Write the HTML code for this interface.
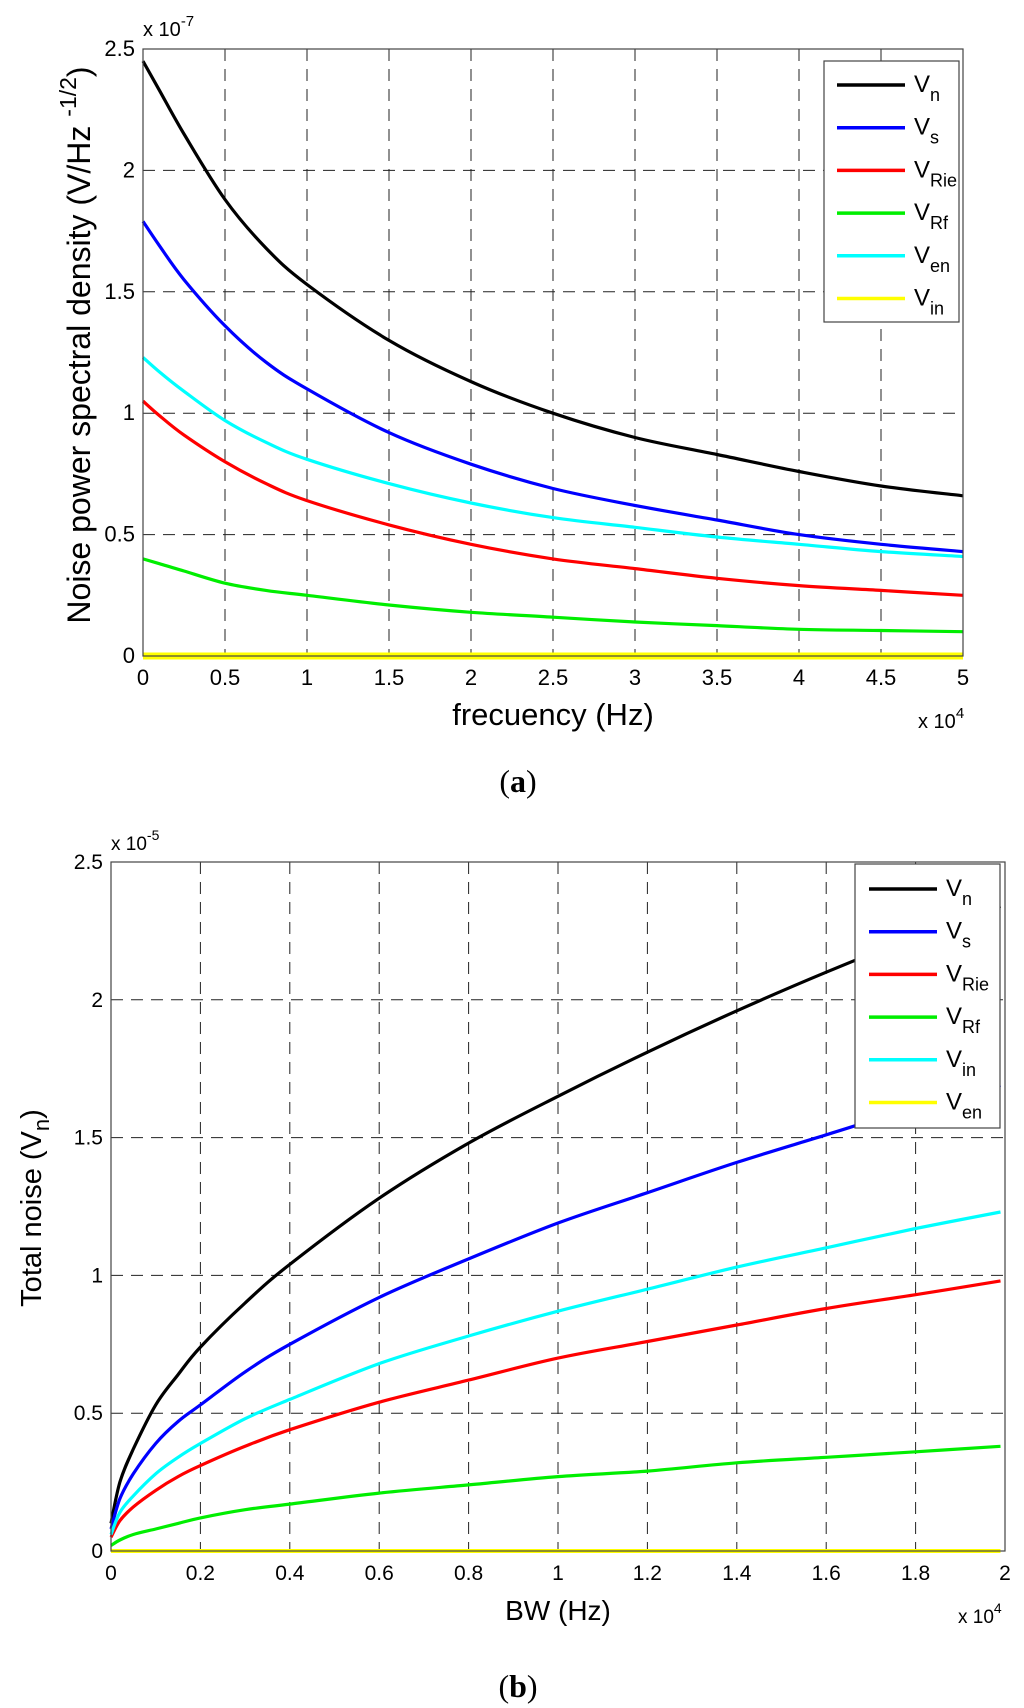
<!DOCTYPE html>
<html><head><meta charset="utf-8"><style>
html,body{margin:0;padding:0;background:#fff;}
svg{display:block;font-family:"Liberation Sans",Arial,sans-serif;}
</style></head><body>
<svg id="fig" width="1024" height="1708" viewBox="0 0 1024 1708" xmlns="http://www.w3.org/2000/svg">
<rect width="1024" height="1708" fill="#fff"/>
<g id="pa"></g>
<g id="pb"></g>
<text x="518" y="792" text-anchor="middle" font-family="Liberation Serif,serif" font-size="32">(<tspan font-weight="bold">a</tspan>)</text>
<text x="518" y="1697" text-anchor="middle" font-family="Liberation Serif,serif" font-size="32">(<tspan font-weight="bold">b</tspan>)</text>
</svg>
<script>
// Chart A data (x in 1e4 Hz, y in 1e-7)
const aX = [0,0.1,0.25,0.5,0.75,1,1.5,2,2.5,3,3.5,4,4.5,5];
const aVn  = [2.45,2.33,2.15,1.88,1.68,1.53,1.30,1.13,1.00,0.90,0.83,0.76,0.70,0.66];
const aVs  = [1.79,1.69,1.55,1.36,1.21,1.10,0.92,0.79,0.69,0.62,0.56,0.50,0.46,0.43];
const aVrie= [1.05,0.99,0.91,0.80,0.71,0.64,0.54,0.46,0.40,0.36,0.32,0.29,0.27,0.25];
const aVrf = [0.40,0.38,0.35,0.30,0.27,0.25,0.21,0.18,0.16,0.14,0.125,0.11,0.105,0.10];
const aVen = [1.23,1.17,1.09,0.97,0.88,0.81,0.71,0.63,0.57,0.53,0.49,0.46,0.43,0.41];
const aVin = [0,0,0,0,0,0,0,0,0,0,0,0,0,0];
const aXTicks = ["0","0.5","1","1.5","2","2.5","3","3.5","4","4.5","5"];
const aYTicks = ["0","0.5","1","1.5","2","2.5"];
// Chart B data (x in 1e4 Hz, y in 1e-5)
const bX = [0,0.02,0.05,0.1,0.15,0.2,0.3,0.4,0.6,0.8,1.0,1.2,1.4,1.6,1.8,1.99];
const bVn  = [0.10,0.25,0.37,0.53,0.64,0.74,0.90,1.04,1.28,1.48,1.65,1.81,1.96,2.10,2.23,2.34];
const bVs  = [0.08,0.19,0.28,0.39,0.47,0.53,0.65,0.75,0.92,1.06,1.19,1.30,1.41,1.51,1.61,1.69];
const bVrie= [0.05,0.11,0.16,0.22,0.27,0.31,0.38,0.44,0.54,0.62,0.70,0.76,0.82,0.88,0.93,0.98];
const bVrf = [0.02,0.04,0.06,0.08,0.10,0.12,0.15,0.17,0.21,0.24,0.27,0.29,0.32,0.34,0.36,0.38];
const bVin = [0.06,0.14,0.20,0.28,0.34,0.39,0.48,0.55,0.68,0.78,0.87,0.95,1.03,1.10,1.17,1.23];
const bVen = [0,0,0,0,0,0,0,0,0,0,0,0,0,0,0,0];
const bXTicks = ["0","0.2","0.4","0.6","0.8","1","1.2","1.4","1.6","1.8","2"];
const bYTicks = ["0","0.5","1","1.5","2","2.5"];

const NS="http://www.w3.org/2000/svg";
function mk(parent,tag,attrs,text){const e=document.createElementNS(NS,tag);for(const k in attrs)e.setAttribute(k,attrs[k]);if(text!==undefined)e.textContent=text;parent.appendChild(e);return e;}

function smooth(pts){
  let d='M'+pts[0][0].toFixed(1)+','+pts[0][1].toFixed(1);
  for(let i=0;i<pts.length-1;i++){
    const p0=pts[Math.max(0,i-1)],p1=pts[i],p2=pts[i+1],p3=pts[Math.min(pts.length-1,i+2)];
    const c1x=p1[0]+(p2[0]-p0[0])/6,c1y=p1[1]+(p2[1]-p0[1])/6;
    const c2x=p2[0]-(p3[0]-p1[0])/6,c2y=p2[1]-(p3[1]-p1[1])/6;
    d+=' C'+c1x.toFixed(1)+','+c1y.toFixed(1)+' '+c2x.toFixed(1)+','+c2y.toFixed(1)+' '+p2[0].toFixed(1)+','+p2[1].toFixed(1);
  }
  return d;
}

function draw(g,cfg){
  const {L,R,T,B,xmax,ymax,fs}=cfg;
  const sx=v=>L+(v/xmax)*(R-L), sy=v=>B-(v/ymax)*(B-T);
  cfg.xt.forEach((t,i)=>{const x=sx(parseFloat(t));
    if(i>0&&i<cfg.xt.length-1){const l=mk(g,'line',{x1:x,y1:T,x2:x,y2:B,stroke:'#222','stroke-width':1,'stroke-dasharray':'12,8'});
      
      }
    const tx=mk(g,'text',{x:x,y:B+29,'text-anchor':'middle','font-size':fs},t);
    
    
  });
  cfg.yt.forEach((t,i)=>{const y=sy(parseFloat(t));
    if(i>0&&i<cfg.yt.length-1){const l=mk(g,'line',{x1:L,y1:y,x2:R,y2:y,stroke:'#222','stroke-width':1,'stroke-dasharray':'12,8'});
      
      }
    const tx=mk(g,'text',{x:L-8,y:y+7,'text-anchor':'end','font-size':fs},t);
    
    
  });
  cfg.series.forEach(s=>{
    const pts=cfg.x.map((v,i)=>[sx(v),sy(s.y[i])]);
    const p=mk(g,'path',{d:smooth(pts),fill:'none',stroke:s.c,'stroke-width':s.w||3.2,'stroke-linejoin':'round'});
    
    
  });
  const ax=mk(g,'rect',{x:L,y:T,width:R-L,height:B-T,fill:'none',stroke:'#444','stroke-width':1.2});
  
  
  const lg=cfg.leg;
  const lb=mk(g,'rect',{x:lg.x,y:lg.y,width:lg.w,height:lg.h,fill:'#fff',stroke:'#444','stroke-width':1.2});
  
  
  cfg.series.forEach((s,i)=>{const y=lg.y0+i*42.7;
    const ln=mk(g,'line',{x1:lg.lx,y1:y,x2:lg.lx+68,y2:y,stroke:s.c,'stroke-width':3.5});
    
    
    const tx=mk(g,'text',{x:lg.lx+77,y:y+7,'font-size':24},'V');
    mk(tx,'tspan',{'font-size':18,dy:9},s.lab);
    
    
  });
}

draw(document.getElementById('pa'),{L:143,R:963,T:49,B:656,xmax:5,ymax:2.5,fs:22,x:aX,xt:aXTicks,yt:aYTicks,
  series:[{id:'vn',c:'#000',y:aVn,lab:'n'},{id:'vs',c:'#0000ff',y:aVs,lab:'s'},{id:'vrie',c:'#ff0000',y:aVrie,lab:'Rie'},
   {id:'vrf',c:'#00ee00',y:aVrf,lab:'Rf'},{id:'ven',c:'#00ffff',y:aVen,lab:'en'},{id:'vin',c:'#ffff00',y:aVin,lab:'in',w:7}],
  leg:{x:824,y:61,w:135,h:261,y0:85,lx:837}});
draw(document.getElementById('pb'),{L:111,R:1005,T:862,B:1551,xmax:2,ymax:2.5,fs:21,x:bX,xt:bXTicks,yt:bYTicks,
  series:[{id:'vn',c:'#000',y:bVn,lab:'n'},{id:'vs',c:'#0000ff',y:bVs,lab:'s'},{id:'vrie',c:'#ff0000',y:bVrie,lab:'Rie'},
   {id:'vrf',c:'#00ee00',y:bVrf,lab:'Rf'},{id:'vin',c:'#00ffff',y:bVin,lab:'in'},{id:'ven',c:'#ffff00',y:bVen,lab:'en',w:4}],
  leg:{x:855,y:864,w:145,h:264,y0:889,lx:869}});

const pa=document.getElementById('pa'), pb=document.getElementById('pb');
let t;
t=mk(pa,'text',{x:143,y:36,'font-size':20},'x 10');mk(t,'tspan',{'font-size':15,dy:-10},'-7');


t=mk(pa,'text',{x:918,y:728,'font-size':20},'x 10');mk(t,'tspan',{'font-size':15,dy:-10},'4');


t=mk(pa,'text',{x:553,y:725,'text-anchor':'middle','font-size':31},'frecuency (Hz)');


t=mk(pa,'text',{x:0,y:0,'text-anchor':'middle','font-size':32,transform:'translate(90,345) rotate(-90)'},'Noise power spectral density  (V/Hz ');
mk(t,'tspan',{'font-size':23,dy:-14},'-1/2');mk(t,'tspan',{dy:14},')');



t=mk(pb,'text',{x:111,y:850,'font-size':19},'x 10');mk(t,'tspan',{'font-size':14,dy:-10},'-5');


t=mk(pb,'text',{x:958,y:1623,'font-size':19},'x 10');mk(t,'tspan',{'font-size':14,dy:-10},'4');


t=mk(pb,'text',{x:558,y:1620,'text-anchor':'middle','font-size':28},'BW (Hz)');


t=mk(pb,'text',{x:0,y:0,'text-anchor':'middle','font-size':29,transform:'translate(41,1208) rotate(-90)'},'Total noise (V');
mk(t,'tspan',{'font-size':22,dy:8},'n');mk(t,'tspan',{dy:-8},')');


</script>
</body></html>
